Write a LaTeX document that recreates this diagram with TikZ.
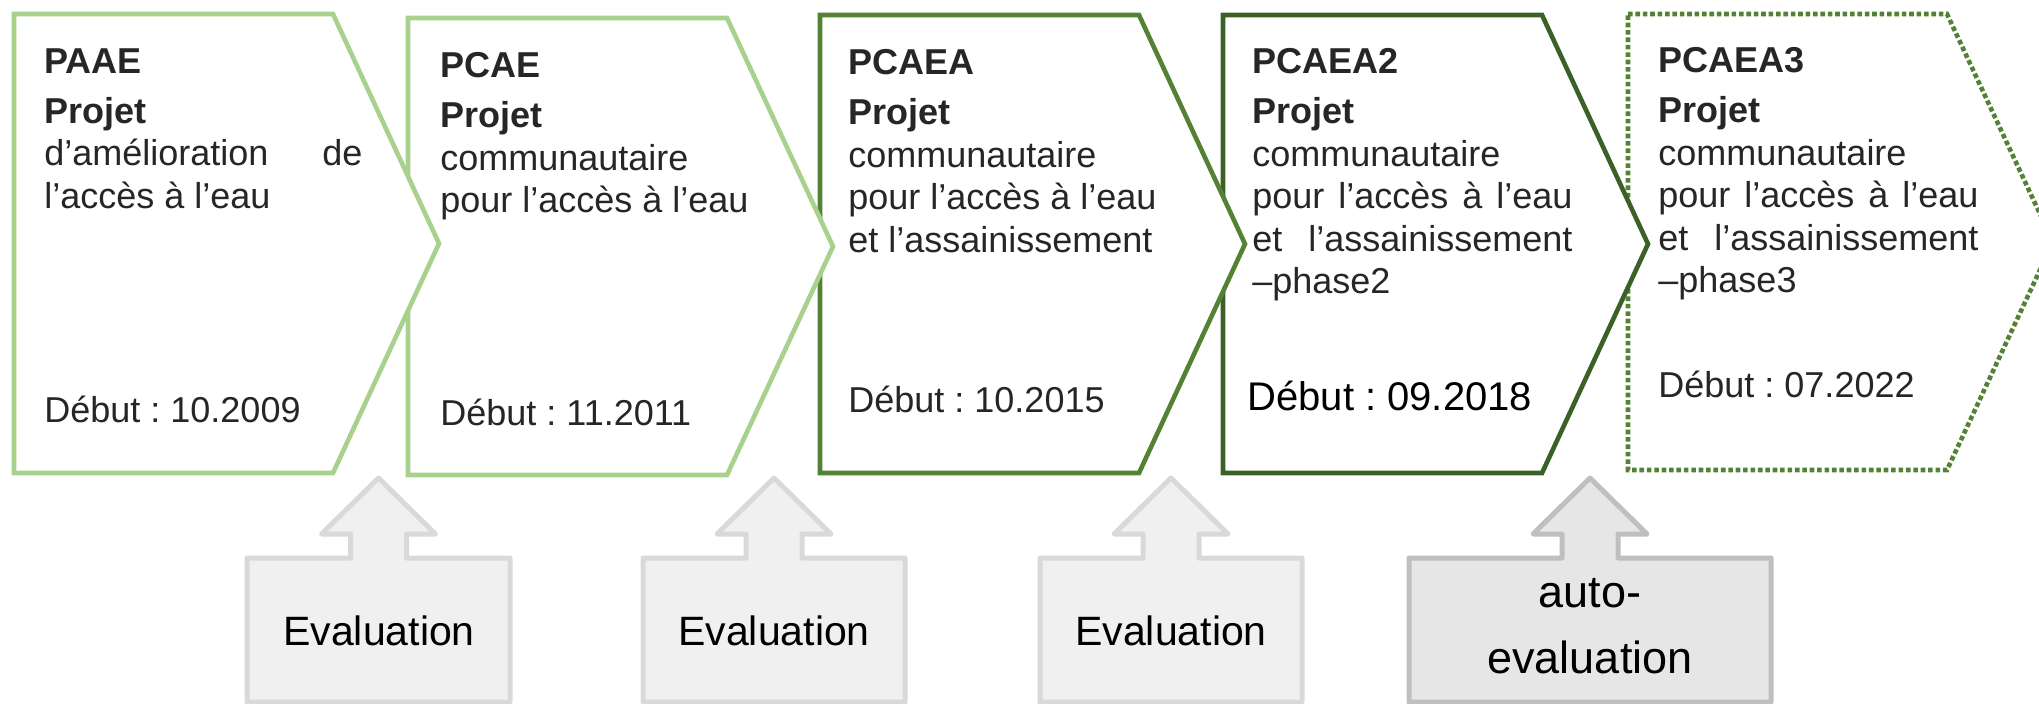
\documentclass[tikz,border=0pt]{standalone}
\usepackage{fontspec}
\setmainfont{Liberation Sans}
\frenchspacing
\definecolor{LightGreen}{HTML}{A9D18E}
\definecolor{MidGreen}{HTML}{548235}
\definecolor{DarkGreen}{HTML}{3B6126}
\definecolor{TextGray}{HTML}{262626}
\definecolor{EvalFill}{HTML}{F0F0F0}
\definecolor{EvalLine}{HTML}{D9D9D9}
\definecolor{AutoFill}{HTML}{E6E6E6}
\definecolor{AutoLine}{HTML}{BFBFBF}
\newcommand\ProjChevron[5]{%
    \draw[#1,fill=white,line width=2.3pt] (#3,#4) coordinate(#2) -- (#3+319,#4) -- (#3+425,{(#4+#5)/2}) coordinate(#2Tip) -- (#3+319,#5) -- (#3,#5) -- cycle;
}
\newcommand\EvalArrow[4]{%
    \draw[#1,line width=2.5pt,line join=round] (#3,702) -- (#3,558) -- ({(#3+#4)/2-28},558) -- ++(0,-24) -- ++(-29,0) -- ({(#3+#4)/2},478) coordinate(#2Tip) -- ++(57,56) -- ++(-29,0) -- ++(0,24) -- (#4,558) -- (#4,702) -- cycle;
}
\tikzset{
    projtext/.style={anchor=base west,align=left,inner sep=0pt,text=TextGray,font=\fontsize{18}{21.25}\selectfont},
    evaltext/.style={anchor=base,align=center,inner sep=0pt,text=black,font=\fontsize{20.5}{24}\selectfont}
}

\begin{document}
\begin{tikzpicture}[x=0.5pt,y=-0.5pt]
    \useasboundingbox (0,0) rectangle (2039,703);
    % the later projects first, so that each tip lies over the next one
    \ProjChevron{MidGreen,dash pattern=on 2.3pt off 1.4pt}{PcaeaThree}{1628}{14}{470}
    \ProjChevron{DarkGreen}{PcaeaTwo}{1223}{15}{473}
    \ProjChevron{MidGreen}{Pcaea}{820}{15}{473}
    \ProjChevron{LightGreen}{Pcae}{408}{18}{475}
    \ProjChevron{LightGreen}{Paae}{14}{14}{473}

    \EvalArrow{draw=EvalLine,fill=EvalFill}{EvalOne}{247}{510}
    \EvalArrow{draw=EvalLine,fill=EvalFill}{EvalTwo}{643}{905}
    \EvalArrow{draw=EvalLine,fill=EvalFill}{EvalThree}{1040}{1302}
    \EvalArrow{draw=AutoLine,fill=AutoFill}{AutoEval}{1409}{1771}

    % texts are set on the baseline of their last line
    \node[projtext] (PaaeText) at (44,422) {\textbf{PAAE}\\[3.75pt]\textbf{Projet}\\\makebox[159pt][s]{d’amélioration de}\\l’accès à l’eau\\[85.75pt]Début : 10.2009};
    \node[projtext] (PcaeText) at (440,425) {\textbf{PCAE}\\[4pt]\textbf{Projet}\\communautaire\\pour l’accès à l’eau\\[85pt]Début : 11.2011};
    \node[projtext] (PcaeaText) at (848,412) {\textbf{PCAEA}\\[4pt]\textbf{Projet}\\communautaire\\pour l’accès à l’eau\\et l’assainissement\\[58.75pt]Début : 10.2015};
    \node[projtext] (PcaeaTwoText) at (1252,410) {\textbf{PCAEA2}\\[4pt]\textbf{Projet}\\communautaire\\\makebox[160pt][s]{pour l’accès à l’eau}\\\makebox[160pt][s]{et l’assainissement}\\–phase2\\[37pt]{\fontsize{20}{24}\selectfont\color{black}\hspace{-2.5pt}Début : 09.2018}};
    \node[projtext] (PcaeaThreeText) at (1658,397) {\textbf{PCAEA3}\\[4pt]\textbf{Projet}\\communautaire\\\makebox[160pt][s]{pour l’accès à l’eau}\\\makebox[160pt][s]{et l’assainissement}\\–phase3\\[31pt]Début : 07.2022};

    \node[evaltext] (EvalOneText) at (379,645) {Evaluation};
    \node[evaltext] (EvalTwoText) at (774,645) {Evaluation};
    \node[evaltext] (EvalThreeText) at (1171,645) {Evaluation};
    \node[evaltext,font=\fontsize{22.5}{33}\selectfont] (AutoEvalText) at (1590,673) {auto-\\evaluation};
\end{tikzpicture}
\end{document}
